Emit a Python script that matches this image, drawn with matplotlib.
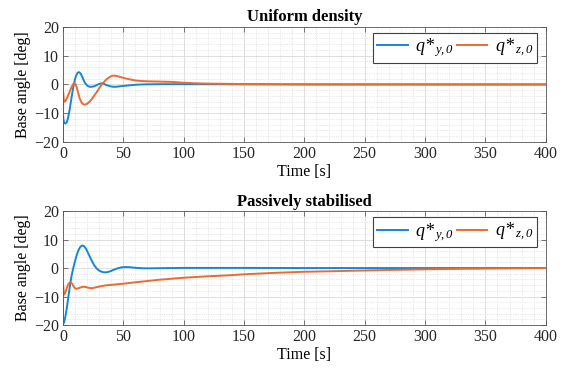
import matplotlib
matplotlib.use("Agg")
import matplotlib.pyplot as plt
from matplotlib.ticker import MultipleLocator

plt.rcParams['font.family'] = ['Liberation Serif', 'DejaVu Serif']
plt.rcParams['mathtext.fontset'] = 'custom'
plt.rcParams['mathtext.rm'] = 'Liberation Serif:italic'
plt.rcParams['mathtext.it'] = 'Liberation Serif:italic'

# ---- data: Uniform density ----
t_uy = [0, 0.5, 1, 2, 3, 4, 5, 6, 7, 8, 9, 10, 11, 12, 13, 14, 15, 16, 17, 18,
        20, 22, 24, 26, 28, 30, 32, 34, 36, 38, 40, 42, 44, 46, 48, 50, 55, 60,
        65, 70, 80, 100, 150, 200, 300, 400]
q_uy = [-10.5, -12.5, -13.3, -13.6, -13.2, -12.0, -10.0, -7.5, -4.8, -2.2, 0.0,
        1.9, 3.2, 4.0, 4.3, 4.1, 3.5, 2.6, 1.6, 0.7, -0.4, -0.8, -0.8, -0.6,
        -0.2, 0.2, 0.4, 0.2, -0.2, -0.5, -0.7, -0.8, -0.8, -0.7, -0.6, -0.5,
        -0.3, -0.1, 0.0, 0.05, 0.1, 0.1, 0.05, 0.0, 0.0, 0.0]
t_uz = [0, 0.1, 0.5, 1, 2, 3, 4, 5, 6, 7, 8, 9, 10, 11, 12, 13, 14, 15, 16, 17,
        18, 19, 20, 22, 24, 26, 28, 30, 32, 34, 36, 38, 40, 42, 44, 46, 50, 55,
        60, 65, 70, 80, 90, 100, 110, 120, 150, 200, 400]
q_uz = [-20.0, -2.5, -5.0, -6.0, -5.8, -5.0, -4.0, -3.0, -2.0, -1.0, -0.2, 0.5,
        0.4, -0.5, -2.0, -3.6, -5.0, -6.0, -6.6, -6.9, -7.0, -6.9, -6.7, -6.0,
        -5.0, -3.8, -2.6, -1.3, -0.1, 0.9, 1.8, 2.4, 2.9, 3.1, 3.0, 2.8, 2.3,
        1.8, 1.4, 1.2, 1.1, 1.0, 0.9, 0.6, 0.4, 0.3, 0.15, 0.05, 0.0]

# ---- data: Passively stabilised ----
t_py = [0, 1, 2, 3, 4, 5, 6, 7, 8, 9, 10, 11, 12, 13, 14, 15, 16, 17, 18, 19,
        20, 22, 24, 26, 28, 30, 32, 34, 36, 38, 40, 42, 44, 46, 48, 50, 52, 55,
        60, 65, 70, 80, 100, 150, 200, 400]
q_py = [-19.8, -19.0, -17.0, -14.5, -11.5, -8.5, -5.5, -3.0, -1.0, 0.8, 2.5,
        4.0, 5.3, 6.4, 7.2, 7.7, 7.9, 7.8, 7.4, 6.8, 6.0, 4.2, 2.4, 0.9, -0.2,
        -0.9, -1.3, -1.5, -1.5, -1.3, -1.0, -0.6, -0.3, 0.0, 0.2, 0.3, 0.35,
        0.3, 0.1, -0.05, -0.1, -0.05, 0.05, 0.05, 0.0, 0.0]
t_pz = [0, 0.1, 0.5, 1, 2, 3, 4, 5, 6, 7, 8, 9, 10, 11, 12, 14, 16, 18, 20, 22,
        24, 26, 28, 30, 35, 40, 50, 60, 80, 100, 120, 135, 150, 175, 200, 225,
        250, 280, 300, 325, 350, 375, 400]
q_pz = [-20.0, -6.0, -8.5, -9.3, -8.5, -7.2, -6.0, -5.3, -5.0, -5.2, -5.8,
        -6.6, -7.1, -7.3, -7.2, -6.9, -6.6, -6.6, -6.8, -7.0, -7.1, -6.9, -6.7,
        -6.5, -6.1, -5.9, -5.5, -5.0, -4.1, -3.4, -2.9, -2.6, -2.2, -1.7, -1.3,
        -1.1, -0.85, -0.6, -0.45, -0.3, -0.2, -0.1, 0.0]

titles = ['Uniform density', 'Passively stabilised']
labels = [r'$q$*$\,{}_{y,0}$', r'$q$*$\,{}_{z,0}$']
xticks = [0, 50, 100, 150, 200, 250, 300, 350, 400]
yticks = [-20, -10, 0, 10, 20]

blue = '#1786D2'
orange = '#EC6A32'

fig = plt.figure(figsize=(5.7, 3.71), dpi=100)
ax1 = fig.add_axes([0.1105, 0.6173, 0.847, 0.31])
ax2 = fig.add_axes([0.1105, 0.124, 0.847, 0.307])

datasets = [((t_uy, q_uy), (t_uz, q_uz)), ((t_py, q_py), (t_pz, q_pz))]

for ax, title, (dy, dz) in zip([ax1, ax2], titles, datasets):
    ax.plot(dy[0], dy[1], color=blue, lw=1.4, label=labels[0])
    ax.plot(dz[0], dz[1], color=orange, lw=1.4, label=labels[1])
    ax.set_xlim(0, 400)
    ax.set_ylim(-20, 20)
    ax.set_xticks(xticks)
    ax.set_yticks(yticks)
    ax.xaxis.set_minor_locator(MultipleLocator(10))
    ax.yaxis.set_minor_locator(MultipleLocator(2))
    ax.grid(which='major', color='#d9d9d9', lw=0.6, ls='-')
    ax.grid(which='minor', color='#d6d6d6', lw=0.5, ls=(0, (1, 1.5)))
    ax.set_axisbelow(True)
    ax.tick_params(which='both', direction='in', top=True, right=True,
                   labelsize=11.5, colors='#262626', pad=3)
    ax.tick_params(which='major', length=3.5, width=0.6, color='#606060')
    ax.tick_params(which='minor', length=0)
    for s in ax.spines.values():
        s.set_color('#555555')
        s.set_linewidth(0.6)
    ax.set_title(title, fontsize=12, fontweight='bold', pad=4)
    ax.set_xlabel('Time [s]', fontsize=11.5, labelpad=1)
    ax.set_ylabel('Base angle [deg]', fontsize=11.5, labelpad=2)
    leg = ax.legend(loc='upper right', bbox_to_anchor=(0.981, 0.948), ncol=2,
                    borderaxespad=0, fontsize=13, handlelength=1.7,
                    columnspacing=0.15, handletextpad=0.4, fancybox=False,
                    framealpha=1, borderpad=0.2)
    for txt in leg.get_texts():
        txt.set_fontstyle('italic')
    leg.get_frame().set_edgecolor('#404040')
    leg.get_frame().set_linewidth(0.8)

fig.savefig('out.png', dpi=100)
